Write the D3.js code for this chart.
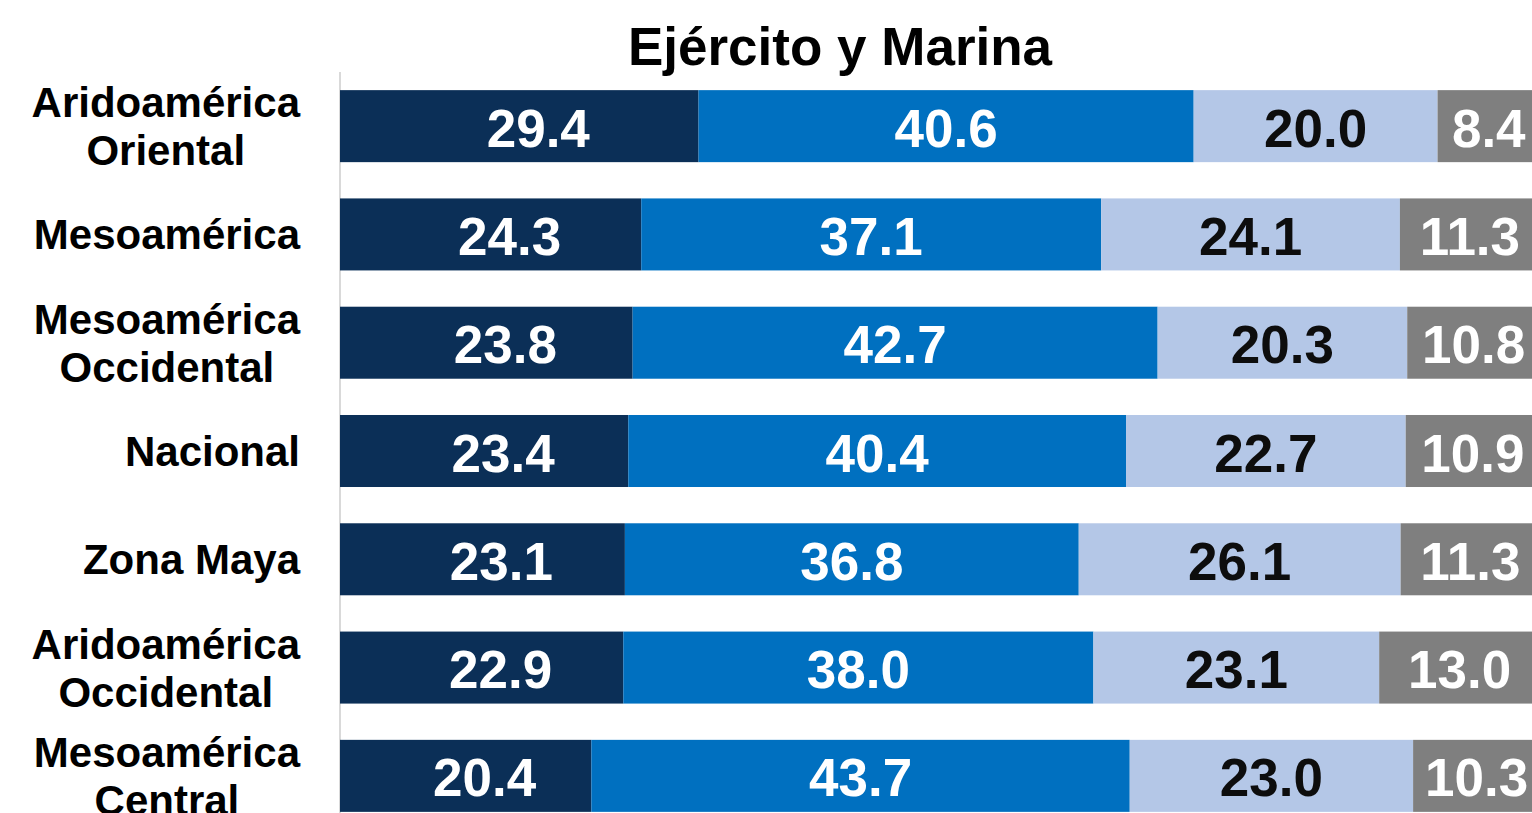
<!DOCTYPE html>
<html><head><meta charset="utf-8">
<script src="https://cdn.jsdelivr.net/npm/d3@7"></script>
<style>
html,body{margin:0;padding:0;background:#fff;overflow:hidden;}
text{font-family:"Liberation Sans",Arial,sans-serif;font-weight:bold;}
</style></head>
<body>
<svg id="chart" width="1532" height="813"></svg>
<script>
const title = "Ejército y Marina";
const categories = [
  ["Aridoamérica","Oriental"],
  ["Mesoamérica"],
  ["Mesoamérica","Occidental"],
  ["Nacional"],
  ["Zona Maya"],
  ["Aridoamérica","Occidental"],
  ["Mesoamérica","Central"]
];
const series1 = [29.4, 24.3, 23.8, 23.4, 23.1, 22.9, 20.4];
const series2 = [40.6, 37.1, 42.7, 40.4, 36.8, 38.0, 43.7];
const series3 = [20.0, 24.1, 20.3, 22.7, 26.1, 23.1, 23.0];
const series4 = [8.4, 11.3, 10.8, 10.9, 11.3, 13.0, 10.3];
const colors = ["#0B2F57", "#0070C0", "#B4C7E7", "#7F7F7F"];
const textColors = ["#ffffff", "#ffffff", "#0d0d0d", "#ffffff"];

const svg = d3.select("#chart");
const allSeries = [series1, series2, series3, series4];
const keys = categories.map((c, i) => i);

const y = d3.scaleBand().domain(keys).range([72, 830]).paddingInner(0.335).paddingOuter(0.1675);
const x = d3.scaleLinear().domain([0, 100]).range([340, 1540]);

// title
svg.append("text").attr("x", 840).attr("y", 65).attr("text-anchor", "middle")
  .attr("font-size", 53).attr("fill", "#000").text(title);

// axis line
svg.append("line").attr("x1", 340).attr("x2", 340).attr("y1", 72).attr("y2", 813)
  .attr("stroke", "#d9d9d9").attr("stroke-width", 2);

keys.forEach(i => {
  const vals = allSeries.map(s => s[i]);
  const total = d3.sum(vals);
  let cum = 0;
  const g = svg.append("g");
  vals.forEach((v, j) => {
    const x0 = x(cum / total * 100);
    const x1 = x((cum + v) / total * 100);
    cum += v;
    g.append("rect").attr("x", x0).attr("y", y(i)).attr("width", x1 - x0)
      .attr("height", y.bandwidth()).attr("fill", colors[j]);
    const off = j === 0 ? 19 : 0;
    g.append("text").attr("x", (x0 + x1) / 2 + off)
      .attr("y", y(i) + y.bandwidth() / 2 + 20.5)
      .attr("text-anchor", "middle").attr("font-size", 53)
      .attr("fill", textColors[j]).text(v.toFixed(1));
  });
  // category label
  const lines = categories[i];
  const cy = y(i) + y.bandwidth() / 2;
  const lh = 48;
  const lg = svg.append("g");
  const texts = lines.map((ln, k) => lg.append("text")
    .attr("font-size", 42).attr("fill", "#000")
    .attr("y", cy + (k - (lines.length - 1) / 2) * lh + 15).text(ln));
  const widths = texts.map(t => t.node().getComputedTextLength());
  const maxW = d3.max(widths);
  texts.forEach(t => t.attr("text-anchor", "middle").attr("x", 300 - maxW / 2));
});
</script>
</body></html>
